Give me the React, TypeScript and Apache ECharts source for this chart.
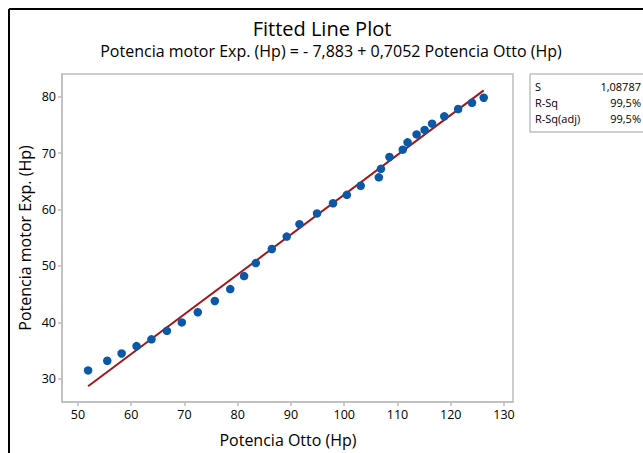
import React, { useEffect, useRef } from "react";
import * as echarts from "echarts";

// Observed points (Potencia Otto (Hp), Potencia motor Exp. (Hp))
const ottoHp = [51.9, 55.5, 58.2, 61.0, 63.8, 66.7, 69.5, 72.5, 75.7, 78.6, 81.2, 83.4, 86.4, 89.2, 91.6, 94.9, 97.9, 100.5, 103.1, 106.5, 106.9, 108.5, 111.0, 111.9, 113.6, 115.1, 116.5, 118.8, 121.4, 124.0, 126.2];
const motorHp = [31.5, 33.2, 34.5, 35.8, 37.0, 38.5, 40.0, 41.8, 43.8, 45.9, 48.2, 50.5, 53.0, 55.2, 57.4, 59.3, 61.1, 62.6, 64.2, 65.7, 67.2, 69.3, 70.6, 71.9, 73.3, 74.1, 75.2, 76.5, 77.8, 78.9, 79.8];

// Fitted line end points
const fitX = [51.9, 126.2];
const fitY = [28.7, 81.1];

const xTicks = [50, 60, 70, 80, 90, 100, 110, 120, 130];
const yTicks = [30, 40, 50, 60, 70, 80];

const statNames = ["S", "R-Sq", "R-Sq(adj)"];
const statValues = ["1,08787", "99,5%", "99,5%"];

const titleText = "Fitted Line Plot";
const subtitleText = "Potencia motor Exp. (Hp) = - 7,883 + 0,7052 Potencia Otto (Hp)";
const xName = "Potencia Otto (Hp)";
const yName = "Potencia motor Exp. (Hp)";

const FONT = "'Open Sans', 'Noto Sans', sans-serif";

export default function App() {
  const ref = useRef<HTMLDivElement>(null);
  useEffect(() => {
    if (!ref.current) return;
    const chart = echarts.init(ref.current, undefined, { renderer: "svg" });
    const gray = "#BDBDBD";
    const statGraphics: any[] = [];
    statNames.forEach((n, i) => {
      statGraphics.push({
        type: "text",
        x: 535,
        y: 86 + i * 16,
        style: { text: n, font: `11px ${FONT}`, fill: "#000", textVerticalAlign: "middle", textAlign: "left" },
      });
      statGraphics.push({
        type: "text",
        x: 641,
        y: 86 + i * 16,
        style: { text: statValues[i], font: `11px ${FONT}`, fill: "#000", textVerticalAlign: "middle", textAlign: "right" },
      });
    });
    chart.setOption({
      animation: false,
      backgroundColor: "#ffffff",
      grid: {
        left: 62,
        right: 130,
        top: 74,
        bottom: 51,
        show: true,
        borderColor: gray,
        borderWidth: 1.5,
        backgroundColor: "#ffffff",
      },
      xAxis: {
        type: "value",
        min: 47,
        max: 131.7,
        splitLine: { show: false },
        axisLine: { show: true, lineStyle: { color: gray, width: 1.5 } },
        axisTick: { show: true, customValues: xTicks, length: 4, lineStyle: { color: gray, width: 1.5 } },
        axisLabel: { customValues: xTicks, color: "#000", fontSize: 12.5, fontFamily: FONT, margin: 6 },
      },
      yAxis: {
        type: "value",
        min: 25.9,
        max: 84,
        splitLine: { show: false },
        axisLine: { show: true, lineStyle: { color: gray, width: 1.5 } },
        axisTick: { show: true, customValues: yTicks, length: 4, lineStyle: { color: gray, width: 1.5 } },
        axisLabel: { customValues: yTicks, color: "#000", fontSize: 12.5, fontFamily: FONT, margin: 6 },
      },
      series: [
        {
          type: "line",
          data: fitX.map((x, i) => [x, fitY[i]]),
          showSymbol: false,
          symbol: "none",
          lineStyle: { color: "#9E1A1A", width: 2 },
          z: 2,
        },
        {
          type: "scatter",
          data: ottoHp.map((x, i) => [x, motorHp[i]]),
          symbol: "circle",
          symbolSize: 8.5,
          itemStyle: { color: "#0B57A8", opacity: 1 },
          z: 3,
        },
      ],
      graphic: [
        { type: "line", shape: { x1: 9, y1: 9, x2: 643, y2: 9 }, style: { stroke: "#000", lineWidth: 2 } },
        { type: "line", shape: { x1: 9, y1: 9, x2: 9, y2: 453 }, style: { stroke: "#000", lineWidth: 2 } },
        {
          type: "text",
          x: 322,
          y: 28,
          style: { text: titleText, font: `20px ${FONT}`, fill: "#000", textAlign: "center", textVerticalAlign: "middle" },
        },
        {
          type: "text",
          x: 331,
          y: 51,
          style: { text: subtitleText, font: `16px ${FONT}`, fill: "#000", textAlign: "center", textVerticalAlign: "middle" },
        },
        {
          type: "text",
          x: 288,
          y: 440,
          style: { text: xName, font: `16px ${FONT}`, fill: "#000", textAlign: "center", textVerticalAlign: "middle" },
        },
        {
          type: "text",
          x: 25,
          y: 238,
          rotation: Math.PI / 2,
          style: { text: yName, font: `16px ${FONT}`, fill: "#000", textAlign: "center", textVerticalAlign: "middle" },
        },
        {
          type: "rect",
          shape: { x: 530, y: 74, width: 140, height: 58 },
          style: { fill: "#fff", stroke: "#A0A0A0", lineWidth: 1 },
        },
        ...statGraphics,
      ],
    });
    return () => chart.dispose();
  }, []);
  return <div ref={ref} style={{ position: "fixed", left: 0, top: 0, width: 643, height: 453 }} />;
}
